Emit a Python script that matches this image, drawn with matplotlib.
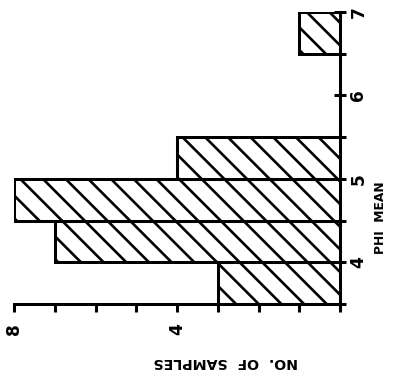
import numpy as np
import matplotlib.pyplot as plt

# Histograma de la media phi (barras horizontales, eje de conteo invertido)
phi_edges = [3.5, 4.0, 4.5, 5.0, 5.5, 6.0, 6.5]
n_samples = [3, 7, 8, 4, 0, 0, 1]
bin_width = 0.5

phi_ticks = [4, 5, 6, 7]
count_ticks = [4, 8]

DPI = 136
plt.rcParams['hatch.linewidth'] = 1.4
plt.rcParams['font.family'] = 'DejaVu Sans'
plt.rcParams['font.weight'] = 'bold'

fig = plt.figure(figsize=(393 / DPI, 375 / DPI), dpi=DPI)
ax = fig.add_axes([14 / 393, 71 / 375, (340 - 14) / 393, (304 - 12) / 375])

ax.barh(phi_edges, n_samples, height=bin_width, align='edge',
        facecolor='white', edgecolor='black', linewidth=1.6, hatch='\\\\')

ax.set_xlim(8, 0)
ax.set_ylim(3.5, 7)

for s in ['top', 'left']:
    ax.spines[s].set_visible(False)
ax.spines['bottom'].set_linewidth(1.6)
ax.spines['right'].set_linewidth(1.6)

# eje de conteo (abajo)
ax.set_xticks(np.arange(0, 9, 1))
ax.set_xticklabels(['' if v not in count_ticks else str(v) for v in range(9)])
ax.tick_params(axis='x', direction='out', length=4, width=1.6,
               labelrotation=90, pad=6, labelsize=9)

# eje phi (derecha)
ax.yaxis.tick_right()
ax.set_yticks(np.arange(3.5, 7.01, 0.5))
ax.set_yticklabels([str(int(v)) if v in phi_ticks else '' for v in np.arange(3.5, 7.01, 0.5)])
ax.tick_params(axis='y', direction='inout', length=6, width=1.6,
               labelrotation=90, pad=2, labelsize=9)
for lbl in ax.get_yticklabels():
    lbl.set_va('center')

fig.text(380 / 393, (375 - 218) / 375, 'PHI  MEAN', rotation=90,
         ha='center', va='center', fontsize=6.5, fontweight='bold')
fig.text(226 / 393, (375 - 362) / 375, 'NO.  OF  SAMPLES', rotation=180,
         ha='center', va='center', fontsize=7.5, fontweight='bold')

fig.savefig('out.png', dpi=DPI)
